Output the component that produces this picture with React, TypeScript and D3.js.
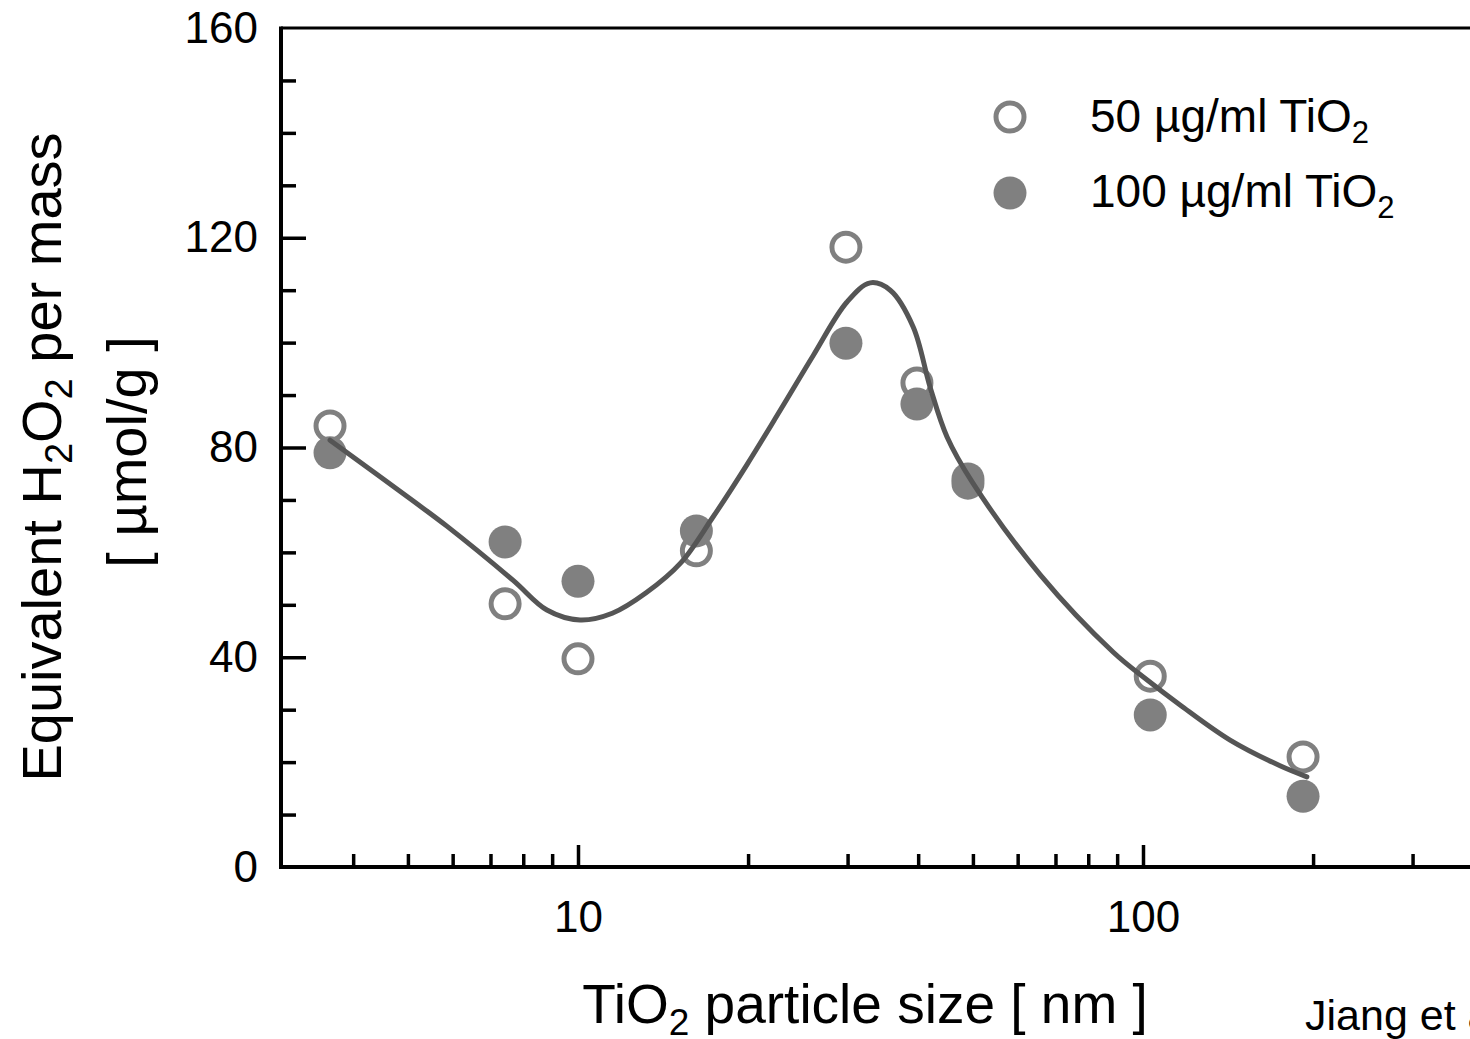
import React, { useEffect, useRef } from 'react';
import * as d3 from 'd3';

// particle sizes (nm) of the measured samples
const sizes = [3.64, 7.43, 10, 16.2, 29.8, 39.8, 49, 103, 192];
// equivalent H2O2 per mass, umol/g
const low = [84.1, 50.2, 39.7, 60.3, 118.2, 92.3, 73.2, 36.4, 21];
const high = [79, 62, 54.5, 64.1, 99.9, 88.3, 74, 29, 13.5];

// fitted curve
const fitX = [3.64, 5.11, 5.86, 7.67, 8.81, 10.08, 11.5, 13.2, 15.2, 17.3, 19.9, 22.8, 26.1, 29.9, 32.9, 35.7, 39.2, 42, 45, 50, 65.8, 88.5, 101.6, 116.3, 142.6, 174.8, 195];
const fitY = [81.4, 69.8, 65.0, 54.7, 49.0, 47.1, 48.4, 52.3, 58.0, 66.6, 76.7, 87.1, 97.6, 107.7, 111.4, 110.0, 103.0, 91.5, 82.0, 73.2, 55.7, 41.0, 35.7, 30.9, 24.2, 19.3, 17.2];

const yMajor = [0, 40, 80, 120, 160];
const yMinor = [10, 20, 30, 50, 60, 70, 90, 100, 110, 130, 140, 150];
const xMajor = [10, 100];
const xMinor = [4, 5, 6, 7, 8, 9, 20, 30, 40, 50, 60, 70, 80, 90, 200, 300, 400];

const FONT = "'Liberation Sans', Arial, sans-serif";
const GRAY = '#808080';

const App = () => {
  const svgRef = useRef(null);

  useEffect(() => {
    const svg = d3.select(svgRef.current);
    svg.selectAll('*').remove();

    const left = 281, top = 28, bottom = 867, decade = 565, x10 = 578;
    const x = d3.scaleLog()
      .domain([3, 400])
      .range([x10 - decade * Math.log10(10 / 3), x10 + decade * Math.log10(40)]);
    const y = d3.scaleLinear().domain([0, 160]).range([bottom, top]);

    const styleAxis = (g, fs) => {
      g.select('.domain').remove();
      g.selectAll('.tick line').attr('stroke', '#000').attr('stroke-width', 3.5);
      g.selectAll('.tick text').attr('fill', '#000').style('font-family', FONT).style('font-size', fs + 'px');
    };

    // y axis
    svg.append('g').attr('transform', `translate(${left},0)`)
      .call(d3.axisLeft(y).tickValues(yMinor).tickSizeInner(-15).tickSizeOuter(0).tickFormat(() => ''))
      .call(g => styleAxis(g, 44));
    svg.append('g').attr('transform', `translate(${left},0)`)
      .call(d3.axisLeft(y).tickValues(yMajor.filter(v => v !== 160 && v !== 0)).tickSizeInner(-25).tickSizeOuter(0).tickPadding(23))
      .call(g => styleAxis(g, 44));
    svg.append('g').attr('transform', `translate(${left},0)`)
      .call(d3.axisLeft(y).tickValues([0, 160]).tickSizeInner(0).tickSizeOuter(0).tickPadding(23))
      .call(g => styleAxis(g, 44));

    // x axis
    svg.append('g').attr('transform', `translate(0,${bottom})`)
      .call(d3.axisBottom(x).tickValues(xMinor).tickSizeInner(-13).tickSizeOuter(0).tickFormat(() => ''))
      .call(g => styleAxis(g, 44));
    svg.append('g').attr('transform', `translate(0,${bottom})`)
      .call(d3.axisBottom(x).tickValues(xMajor).tickSizeInner(-22).tickSizeOuter(0).tickPadding(34).tickFormat(d3.format('d')))
      .call(g => styleAxis(g, 44));

    // frame
    svg.append('path')
      .attr('d', `M${left},${top}H1480`)
      .attr('stroke', '#000').attr('stroke-width', 3).attr('fill', 'none');
    svg.append('path')
      .attr('d', `M1480,${bottom}H${left}V${top - 1.5}`)
      .attr('stroke', '#000').attr('stroke-width', 4).attr('fill', 'none');

    // markers
    svg.append('g').selectAll('circle').data(sizes).join('circle')
      .attr('cx', d => x(d)).attr('cy', (d, i) => y(low[i]))
      .attr('r', 14).attr('fill', 'none').attr('stroke', GRAY).attr('stroke-width', 5);
    svg.append('g').selectAll('circle').data(sizes).join('circle')
      .attr('cx', d => x(d)).attr('cy', (d, i) => y(high[i]))
      .attr('r', 16.5).attr('fill', GRAY);

    // fitted curve
    const fitLine = d3.line()
      .x(d => x(d[0]))
      .y(d => y(d[1]))
      .curve(d3.curveCatmullRom.alpha(0.5));
    svg.append('path')
      .datum(fitX.map((v, i) => [v, fitY[i]]))
      .attr('d', fitLine)
      .attr('fill', 'none').attr('stroke', '#555').attr('stroke-width', 5)
      .attr('stroke-linecap', 'round');

    // legend
    const legend = svg.append('g').style('font-family', FONT);
    legend.append('circle').attr('cx', 1010).attr('cy', 117).attr('r', 14)
      .attr('fill', 'none').attr('stroke', GRAY).attr('stroke-width', 5);
    legend.append('circle').attr('cx', 1010).attr('cy', 193).attr('r', 16.5).attr('fill', GRAY);
    const entry = (label, yy) => {
      const t = legend.append('text').attr('x', 1090).attr('y', yy).style('font-size', '46px').attr('fill', '#000');
      t.append('tspan').text(label);
      t.append('tspan').attr('dy', 11).style('font-size', '31px').text('2');
    };
    entry('50 \u00b5g/ml TiO', 132);
    entry('100 \u00b5g/ml TiO', 207);
  }, []);

  return (
    <div style={{ position: 'absolute', left: 0, top: 0, width: 1470, height: 1039, overflow: 'hidden', background: '#fff' }}>
      <svg ref={svgRef} width={1470} height={1039} style={{ display: 'block' }} />
      <svg width={1470} height={1039} style={{ position: 'absolute', left: 0, top: 0, fontFamily: FONT }}>
        <text transform="translate(61,457) rotate(-90)" textAnchor="middle" fontSize={56} fill="#000">
          Equivalent H<tspan dy={11} fontSize={38}>2</tspan><tspan dy={-11}>O</tspan><tspan dy={11} fontSize={38}>2</tspan><tspan dy={-11}> per mass</tspan>
        </text>
        <text transform="translate(146,452) rotate(-90)" textAnchor="middle" fontSize={56} fill="#000">[ µmol/g ]</text>
        <text x={865} y={1023} textAnchor="middle" fontSize={55} fill="#000">
          TiO<tspan dy={12} fontSize={37}>2</tspan><tspan dy={-12}> particle size [ nm ]</tspan>
        </text>
        <text x={1305} y={1030} fontSize={43} fill="#000">Jiang et al.</text>
      </svg>
    </div>
  );
};

export default App;
